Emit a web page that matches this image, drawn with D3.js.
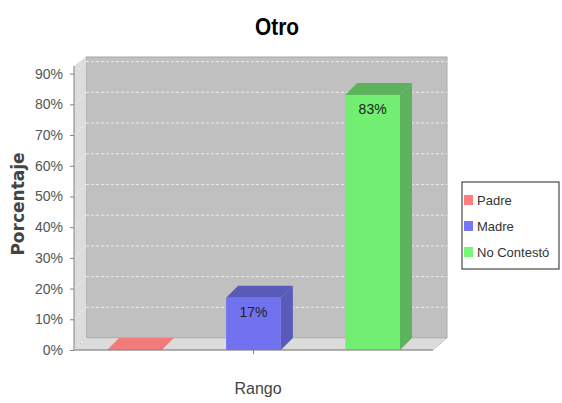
<!DOCTYPE html>
<html>
<head>
<meta charset="utf-8">
<script src="https://cdn.jsdelivr.net/npm/d3@7"></script>
<style>
  body { margin: 0; background: #fff; }
  text { font-family: "Liberation Sans", Arial, sans-serif; }
</style>
</head>
<body>
<div id="chart"></div>
<script>
// data
const categories = ["Rango"];
const series = ["Padre", "Madre", "No Contestó"];
const values = [0, 17, 83];
const barLabels = ["", "17%", "83%"];
const yTicks = [0, 10, 20, 30, 40, 50, 60, 70, 80, 90];

const width = 562, height = 403;
const depth = { x: 12, y: 12 };
const plot = { left: 74, right: 433, top: 69, bottom: 350 };

const frontColors = ["#f57a7a", "#7272f0", "#72ee72"];
const darkColors = ["#d86a6a", "#5a5ab8", "#5cb35c"];

const svg = d3.select("#chart").append("svg")
    .attr("width", width)
    .attr("height", height);

// scales
const yScale = d3.scaleLinear()
    .domain([0, 91.5])
    .range([plot.bottom, plot.top]);

const xScale = d3.scaleBand()
    .domain(categories)
    .range([plot.left, plot.right])
    .paddingOuter(0.1126);

const xSeries = d3.scaleBand()
    .domain(series)
    .range([0, xScale.bandwidth()])
    .paddingInner(0.54);

// title
svg.append("text")
    .attr("x", 277)
    .attr("y", 35)
    .attr("text-anchor", "middle")
    .attr("textLength", 44)
    .attr("lengthAdjust", "spacingAndGlyphs")
    .style("font-family", "'Liberation Sans Narrow', 'Liberation Sans', sans-serif")
    .style("font-weight", "bold")
    .style("font-size", "24px")
    .text("Otro");

// back wall
svg.append("rect")
    .attr("x", plot.left + depth.x)
    .attr("y", plot.top - depth.y)
    .attr("width", plot.right - plot.left + 2)
    .attr("height", plot.bottom - plot.top)
    .attr("fill", "#c0c0c0")
    .attr("stroke", "#a8a8a8");

// left wall
svg.append("path")
    .attr("d", `M${plot.left},${plot.bottom} L${plot.left},${plot.top - 3} L${plot.left + depth.x},${plot.top - depth.y} L${plot.left + depth.x},${plot.bottom - depth.y} Z`)
    .attr("fill", "#dcdcdc");

// floor
svg.append("path")
    .attr("d", `M${plot.left},${plot.bottom} L${plot.left + depth.x},${plot.bottom - depth.y} L${plot.right + depth.x + 2},${plot.bottom - depth.y} L${plot.right},${plot.bottom} Z`)
    .attr("fill", "#dcdcdc")
    .attr("stroke", "#b0b0b0")
    .attr("stroke-width", 0.6);

// gridlines on back wall + diagonal on left wall
yTicks.forEach(t => {
    const y = yScale(t);
    if (t > 0) {
        svg.append("line")
            .attr("x1", plot.left + depth.x).attr("x2", plot.right + depth.x + 2)
            .attr("y1", y - depth.y).attr("y2", y - depth.y)
            .attr("stroke", "#ececec")
            .attr("stroke-width", 1)
            .attr("stroke-dasharray", "3,2");
    }
    svg.append("line")
        .attr("x1", plot.left).attr("x2", plot.left + depth.x)
        .attr("y1", y).attr("y2", y - depth.y)
        .attr("stroke", "#f2f2f2")
        .attr("stroke-width", 1)
        .attr("stroke-dasharray", "3,2");
});

// bars
const bars = svg.selectAll(".bar")
    .data(series.map((s, i) => ({ s, v: values[i], i })))
    .enter().append("g")
    .attr("class", "bar");

bars.each(function (d) {
    const g = d3.select(this);
    const x0 = xScale("Rango") + xSeries(d.s);
    const x1 = x0 + xSeries.bandwidth();
    const y0 = yScale(0);
    const y1 = yScale(d.v);
    // side
    g.append("path")
        .attr("d", `M${x1},${y0} L${x1 + depth.x},${y0 - depth.y} L${x1 + depth.x},${y1 - depth.y} L${x1},${y1} Z`)
        .attr("fill", darkColors[d.i]);
    // top
    g.append("path")
        .attr("d", `M${x0},${y1} L${x0 + depth.x},${y1 - depth.y} L${x1 + depth.x},${y1 - depth.y} L${x1},${y1} Z`)
        .attr("fill", d.v === 0 ? frontColors[d.i] : darkColors[d.i]);
    // front
    g.append("rect")
        .attr("x", x0).attr("y", y1)
        .attr("width", x1 - x0).attr("height", y0 - y1)
        .attr("fill", frontColors[d.i]);
    if (barLabels[d.i]) {
        g.append("text")
            .attr("x", (x0 + x1) / 2)
            .attr("y", y1 + 19)
            .attr("text-anchor", "middle")
            .style("font-size", "14px")
            .attr("fill", "#222")
            .text(barLabels[d.i]);
    }
});

// y axis
const yAxis = svg.append("g")
    .attr("transform", `translate(${plot.left},0)`)
    .call(d3.axisLeft(yScale).tickValues(yTicks).tickSize(4).tickFormat(d => d + "%"));
yAxis.select(".domain")
    .attr("d", `M0,${plot.top - 3}V${plot.bottom}`)
    .attr("stroke", "#808080");
yAxis.selectAll(".tick line").attr("stroke", "#808080");
yAxis.selectAll(".tick text")
    .attr("fill", "#555")
    .style("font-family", "'Liberation Sans', Arial, sans-serif")
    .style("font-size", "14px")
    .attr("dx", "-4");

// x axis
const xAxis = svg.append("g")
    .attr("transform", `translate(0,${plot.bottom})`)
    .call(d3.axisBottom(xScale).tickSize(4).tickFormat(""));
xAxis.select(".domain")
    .attr("d", `M${plot.left},0H${plot.right}`)
    .attr("stroke", "#808080");
xAxis.selectAll(".tick line").attr("stroke", "#808080");

// axis labels
svg.append("text")
    .attr("transform", "translate(24,204) rotate(-90)")
    .attr("text-anchor", "middle")
    .style("font-family", "'DejaVu Sans', sans-serif")
    .style("font-weight", "bold")
    .style("font-size", "17px")
    .attr("fill", "#444")
    .text("Porcentaje");

svg.append("text")
    .attr("x", 258)
    .attr("y", 394)
    .attr("text-anchor", "middle")
    .style("font-size", "16px")
    .attr("fill", "#444")
    .text(categories[0]);

// legend
const legend = svg.append("g").attr("transform", "translate(462,182)");
legend.append("rect")
    .attr("width", 97).attr("height", 87)
    .attr("fill", "#fff")
    .attr("stroke", "#222");
series.forEach((s, i) => {
    const y = 18 + i * 26;
    legend.append("rect")
        .attr("x", 2).attr("y", y - 5)
        .attr("width", 9).attr("height", 10)
        .attr("fill", d3.color(frontColors[i]).darker(-0.1));
    legend.append("text")
        .attr("x", 15).attr("y", y + 5)
        .style("font-size", "13px")
        .attr("fill", "#333")
        .text(s);
});
</script>
</body>
</html>
